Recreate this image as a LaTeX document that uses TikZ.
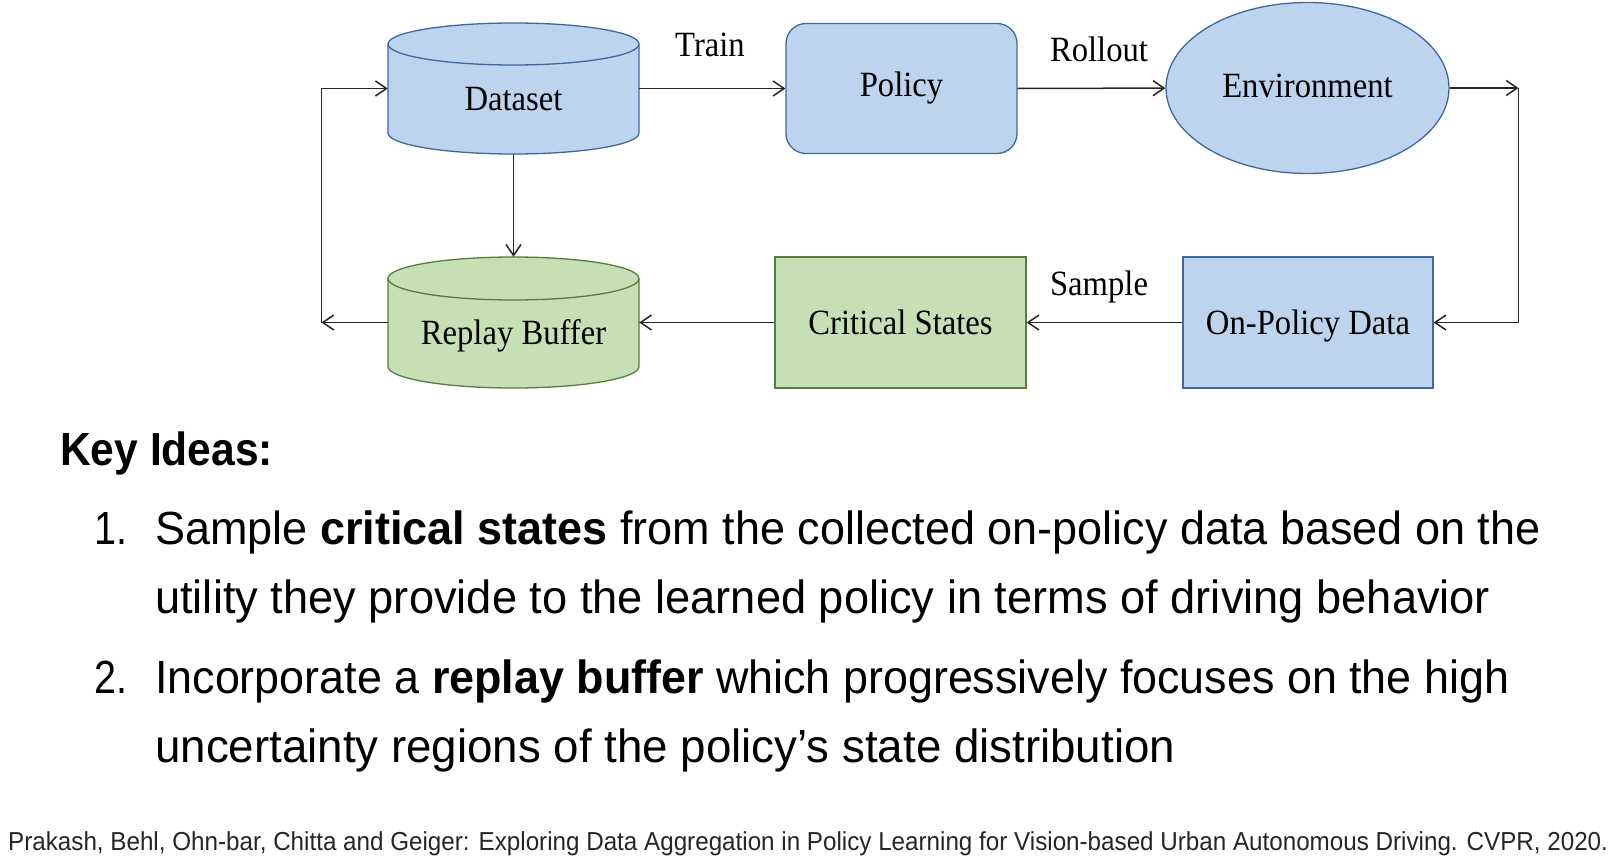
\documentclass[tikz,border=0pt]{standalone}
\usepackage{fontspec}
\usepackage{graphicx}
\usetikzlibrary{arrows.meta,shapes.geometric}
\setmainfont{Liberation Sans}
\newfontfamily\dfont[FakeStretch=0.92]{Liberation Serif}
\definecolor{bfill}{RGB}{188,212,238}
\definecolor{bdraw}{RGB}{66,104,160}
\definecolor{gfill}{RGB}{198,223,181}
\definecolor{gdraw}{RGB}{88,124,62}
\newcommand\fitw[2]{\resizebox{#1}{\height}{#2}}
\begin{document}
\begin{tikzpicture}[x=1pt,y=-1pt,
  lbl/.style={font=\dfont\fontsize{35.5}{40}\selectfont, inner sep=0pt},
  bluebox/.style={lbl, fill=bfill, draw=bdraw, line width=1.3pt},
  greenbox/.style={lbl, fill=gfill, draw=gdraw, line width=1.3pt},
  cyltext/.style={lbl, minimum width=251pt, minimum height=131pt, text height=44pt, text depth=0pt},
  conn/.style={draw=black!85, line width=1.5pt, -{Straight Barb[length=11pt,width=15pt,line width=1.5pt]}},
  body/.style={anchor=base west, inner sep=0pt, font=\fontsize{46.5}{50}\selectfont},
  num/.style={anchor=base east, inner sep=0pt, font=\fontsize{46.5}{50}\selectfont}]
\fill[white] (0,0) rectangle (1616,861);
\useasboundingbox (0,0) rectangle (1616,861);

% Dataset cylinder
\path[fill=bfill, draw=bdraw, line width=1.3pt]
  (388,44) -- (388,133) arc[start angle=180,end angle=360,x radius=125.5pt,y radius=21pt]
  -- (639,44) arc[start angle=0,end angle=180,x radius=125.5pt,y radius=21pt] -- cycle;
\draw[bdraw, line width=1.3pt] (388,44) arc[start angle=180,end angle=360,x radius=125.5pt,y radius=21pt];
% Replay buffer cylinder
\path[fill=gfill, draw=gdraw, line width=1.3pt]
  (388,278.5) -- (388,366.5) arc[start angle=180,end angle=360,x radius=125.5pt,y radius=21.5pt]
  -- (639,278.5) arc[start angle=0,end angle=180,x radius=125.5pt,y radius=21.5pt] -- cycle;
\draw[gdraw, line width=1.3pt] (388,278.5) arc[start angle=180,end angle=360,x radius=125.5pt,y radius=21.5pt];

\node[cyltext] (ds) at (513.5,88.5) {Dataset};
\node[cyltext] (rb) at (513.5,322.5) {Replay Buffer};
\node[bluebox, rounded corners=20pt, minimum width=231pt, minimum height=130pt] (pol) at (901.5,88.5) {Policy};
\node[bluebox, ellipse, minimum width=283pt, minimum height=171pt, text depth=5pt] (env) at (1307.5,88) {Environment};
\node[greenbox, minimum width=251pt, minimum height=131pt] (crit) at (900.5,322.5) {Critical States};
\node[bluebox, minimum width=250pt, minimum height=131pt, text depth=0pt] (onp) at (1308,322.5) {On-Policy Data};

\coordinate (cR) at (1518.5,88);
\coordinate (cL) at (321.5,322.5);

\draw[conn] (ds) -- (pol);
\draw[conn] (pol) -- (env);
\draw[conn] (env) -- (cR);
\draw[conn] (cR) |- (onp);
\draw[conn] (onp) -- (crit);
\draw[conn] (crit) -- (rb);
\draw[conn] (rb) -- (cL);
\draw[conn] (cL) |- (ds);
\draw[conn] (ds) -- (rb);

\node[lbl, anchor=base] (train) at (710,57) {Train};
\node[lbl, anchor=base] (roll) at (1099,61.5) {Rollout};
\node[lbl, anchor=base] (samp) at (1099,295) {Sample};

% Key ideas
\node[body, font=\fontsize{46.5}{50}\selectfont\bfseries] (key) at (60,465) {\fitw{213pt}{Key Ideas:}};
\node[num] (n1) at (128,544) {\fitw{33pt}{1.}};
\node[body] (l1) at (155,544) {\fitw{1385pt}{Sample \textbf{critical states} from the collected on-policy data based on the}};
\node[body] (l2) at (155,613) {\fitw{1335pt}{utility they provide to the learned policy in terms of driving behavior}};
\node[num] (n2) at (128,693) {\fitw{33pt}{2.}};
\node[body] (l3) at (155,693) {\fitw{1354pt}{Incorporate a \textbf{replay buffer} which progressively focuses on the high}};
\node[body] (l4) at (155,762) {\fitw{1020pt}{uncertainty regions of the policy’s state distribution}};

\node[anchor=base west, inner sep=0pt, font=\fontsize{26}{28}\selectfont, text=black!85] (foot) at (8,850) {\fitw{1600pt}{Prakash, Behl, Ohn-bar, Chitta and Geiger: Exploring Data Aggregation in Policy Learning for Vision-based Urban Autonomous Driving. CVPR, 2020.}};
\end{tikzpicture}
\end{document}
